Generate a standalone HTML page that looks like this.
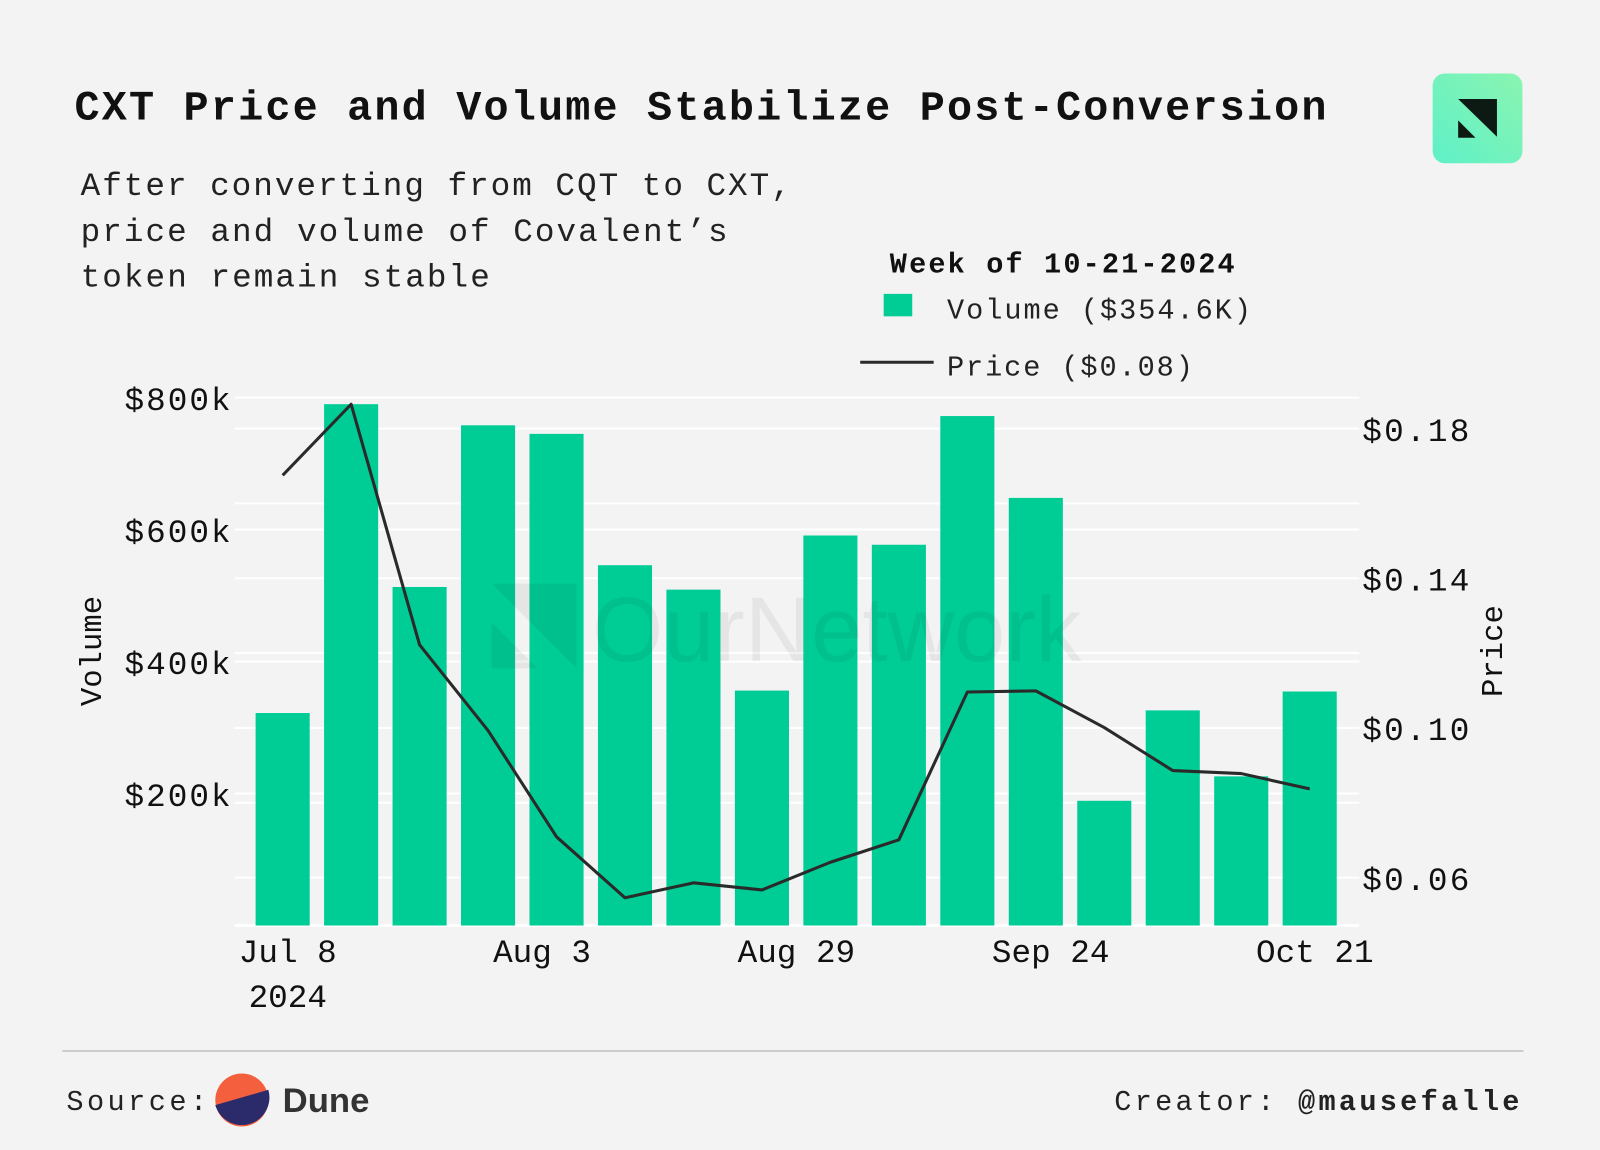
<!DOCTYPE html>
<html><head><meta charset="utf-8">
<style>
html,body{margin:0;padding:0;background:#f3f3f3;}
svg{display:block;}
text{font-family:"Liberation Mono","DejaVu Sans Mono",monospace;}
</style></head>
<body>
<svg id="chart" width="1600" height="1150" viewBox="0 0 1568 1127" preserveAspectRatio="none">
<defs>
<linearGradient id="lg" x1="0" y1="1" x2="1" y2="0">
<stop offset="0" stop-color="#5ff0c8"/><stop offset="1" stop-color="#8af5b0"/>
</linearGradient>
</defs>
<rect width="1568" height="1127" fill="#f3f3f3"/>
<text x="73" y="117" font-size="41" font-weight="bold" fill="#111" textLength="1227" lengthAdjust="spacing">CXT Price and Volume Stabilize Post-Conversion</text>
<g font-size="32" fill="#222">
<text x="79" y="191" textLength="696" lengthAdjust="spacing">After converting from CQT to CXT,</text>
<text x="79" y="236" textLength="634" lengthAdjust="spacing">price and volume of Covalent’s</text>
<text x="79" y="281" textLength="401" lengthAdjust="spacing">token remain stable</text>
</g>
<g>
<rect x="1404" y="72" width="88" height="88" rx="12" fill="url(#lg)"/>
<polygon points="1429,97 1467,97 1467,134" fill="#0d1a14"/>
<polygon points="1429,118 1429,135 1446,135" fill="#0d1a14"/>
</g>
<g>
<text x="872" y="267" font-size="28" font-weight="bold" fill="#111" textLength="338" lengthAdjust="spacing">Week of 10-21-2024</text>
<g>
<rect x="866" y="288" width="28" height="22" fill="#00cc96"/>
<text x="928" y="312" font-size="28" fill="#222" textLength="298" lengthAdjust="spacing">Volume ($354.6K)</text>
</g>
<g>
<line x1="843" y1="355" x2="915" y2="355" stroke="#2a2a2a" stroke-width="3"/>
<text x="928" y="368" font-size="28" fill="#222" textLength="241" lengthAdjust="spacing">Price ($0.08)</text>
</g>
</g>
<g id="grid"></g>
<g id="bars"></g>
<g opacity="0.05">
<polygon points="482,572 565,572 565,655" fill="#000"/>
<polygon points="482,610 482,655 527,655" fill="#000"/>
<text x="580" y="648" font-size="90" style="font-family:'Liberation Sans',sans-serif" fill="#000">OurNetwork</text>
</g>
<g id="line"></g>
<g id="axes"></g>
<text transform="translate(99,638) rotate(-90)" text-anchor="middle" font-size="30" fill="#111">Volume</text>
<text transform="translate(1472,638) rotate(-90)" text-anchor="middle" font-size="30" fill="#111">Price</text>
<line x1="61" y1="1030" x2="1493" y2="1030" stroke="#ccc" stroke-width="2"/>
<g>
<text x="65" y="1088" font-size="28" fill="#222" textLength="138" lengthAdjust="spacing">Source:</text>
<circle cx="237" cy="1078" r="26" fill="#f4603e"/>
<path d="M211,1083 L263,1068 A26,26 0 0 1 211,1083 Z" fill="#2b2a6b"/>
<text x="277" y="1090" font-size="34" font-weight="bold" fill="#333" style="font-family:'Liberation Sans',sans-serif">Dune</text>
</g>
<text x="1092" y="1088" font-size="28" fill="#222" textLength="397" lengthAdjust="spacing">Creator: <tspan font-weight="bold">@mausefalle</tspan></text>
</svg>
<script>
const weeks = ["2024-07-08","2024-07-15","2024-07-22","2024-07-29","2024-08-05","2024-08-12","2024-08-19","2024-08-26","2024-09-02","2024-09-09","2024-09-16","2024-09-23","2024-09-30","2024-10-07","2024-10-14","2024-10-21"];
const volumeK = [322,790,513,758,745,546,509,356,591,577,772,648,189,326,226,354.6];
const price = [0.1675,0.1865,0.1222,0.0993,0.0709,0.0546,0.0586,0.0567,0.0641,0.0701,0.1096,0.1099,0.1001,0.0886,0.0878,0.0837];
const volTicks = [200,400,600,800];
const volTickLabels = ["$200k","$400k","$600k","$800k"];
const priceTicks = [0.06,0.08,0.10,0.12,0.14,0.16,0.18];
const priceTickLabels = ["$0.06","","$0.10","","$0.14","","$0.18"];
const xTickDates = ["2024-07-08","2024-08-03","2024-08-29","2024-09-24","2024-10-21"];
const xTickLabels = ["Jul 8","Aug 3","Aug 29","Sep 24","Oct 21"];

const NS="http://www.w3.org/2000/svg";
const day=86400000, t0=Date.parse(weeks[0]);
const xScale = d => 277 + (Date.parse(d)-t0)/day/7*67.1;
const yVol = v => 907 - v*0.6467;
const yPrice = p => 420 + (0.18-p)*3667;
function mk(tag,attrs,parent){const e=document.createElementNS(NS,tag);for(const k in attrs)e.setAttribute(k,attrs[k]);parent.appendChild(e);return e;}
const grid=document.getElementById('grid'), bars=document.getElementById('bars'), lineG=document.getElementById('line'), axes=document.getElementById('axes');

volTicks.forEach((v,i)=>{
  const y=yVol(v);
  const l=mk('line',{x1:230,x2:1332,y1:y,y2:y,stroke:'#ffffff','stroke-width':2},grid);
  
  
  const t=mk('text',{x:226,y:y+12,'text-anchor':'end','font-size':32,fill:'#111',textLength:104,lengthAdjust:'spacing'},axes);
  t.textContent=volTickLabels[i];
  
  
});
priceTicks.forEach((p,i)=>{
  const y=yPrice(p);
  const l=mk('line',{x1:230,x2:1332,y1:y,y2:y,stroke:'#ffffff','stroke-width':2},grid);
  
  
  if(priceTickLabels[i]){
    const t=mk('text',{x:1335,y:y+12,'font-size':32,fill:'#111',textLength:105,lengthAdjust:'spacing'},axes);
    t.textContent=priceTickLabels[i];
    
    
  }
});
const zl=mk('line',{x1:230,x2:1332,y1:yVol(0),y2:yVol(0),stroke:'#ffffff','stroke-width':3},grid);



weeks.forEach((d,i)=>{
  const cx=xScale(d), y=yVol(volumeK[i]);
  const r=mk('rect',{x:cx-26.5,y:y,width:53,height:yVol(0)-y,fill:'#00cc96'},bars);
  
  
});
const pts=weeks.map((d,i)=>xScale(d)+','+yPrice(price[i])).join(' ');
const pl=mk('polyline',{points:pts,fill:'none',stroke:'#2a2a2a','stroke-width':3,'stroke-linejoin':'round'},lineG);



xTickDates.forEach((d,i)=>{
  const t=mk('text',{x:xScale(d)+5,y:943,'text-anchor':'middle','font-size':32,fill:'#111'},axes);
  t.textContent=xTickLabels[i];
  
  
});
const yr=mk('text',{x:xScale(xTickDates[0])+5,y:987,'text-anchor':'middle','font-size':32,fill:'#111'},axes);
yr.textContent='2024';


</script>
</body></html>
